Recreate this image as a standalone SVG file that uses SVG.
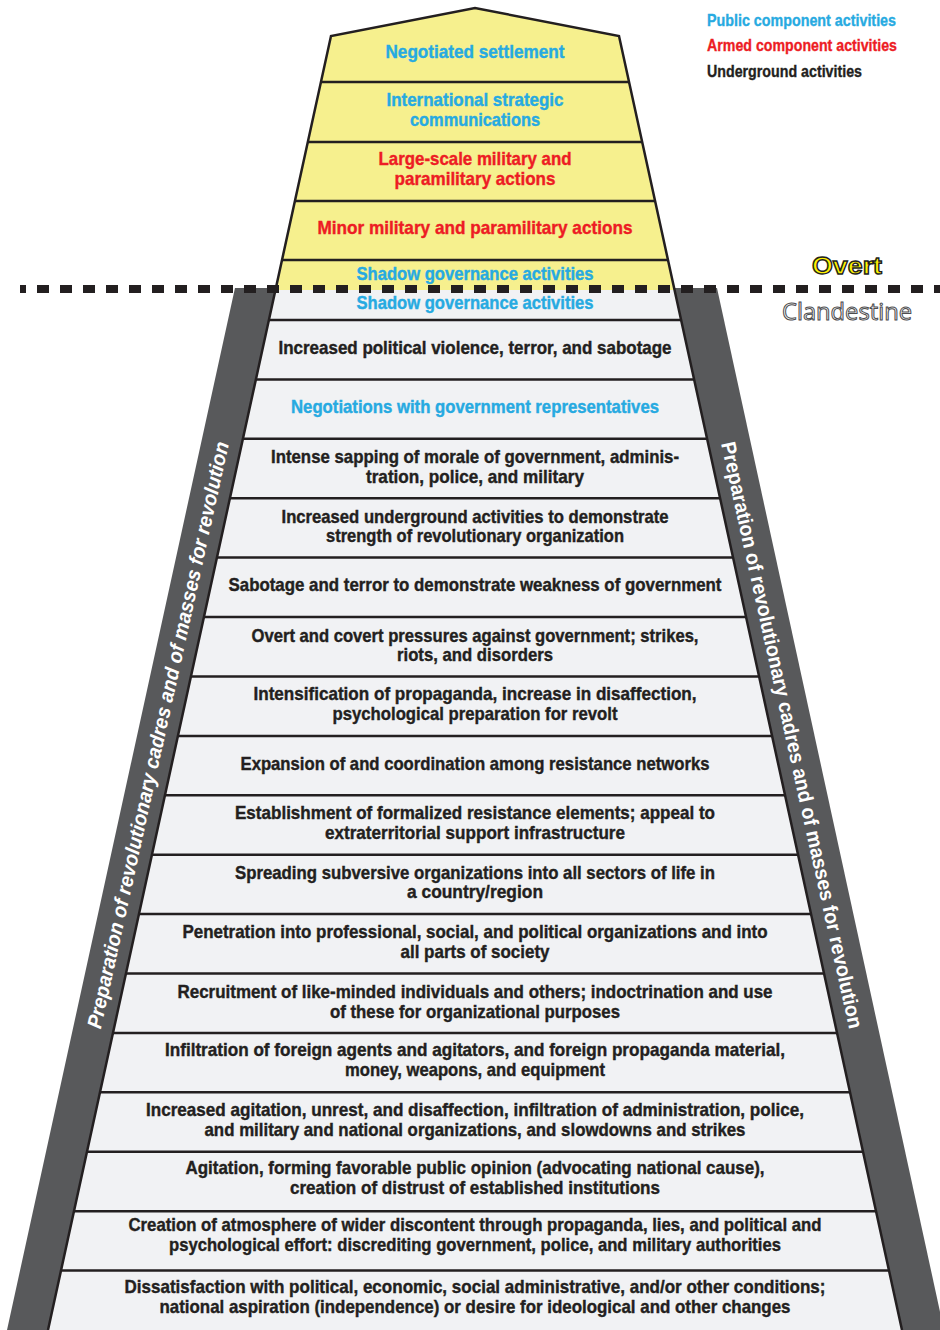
<svg xmlns="http://www.w3.org/2000/svg" width="940" height="1330" viewBox="0 0 940 1330">
<style>
.t{font-family:"Liberation Sans",Arial,sans-serif;font-weight:bold;font-size:18.5px;text-anchor:middle;stroke-width:0.4}
.b{fill:#27aae1;stroke:#27aae1}.r{fill:#ed1c24;stroke:#ed1c24}.k{fill:#231f20;stroke:#231f20}
.sep{stroke:#231f20;stroke-width:2.5;fill:none}
.band{fill:#58595b}
.side{font-family:"Liberation Sans",Arial,sans-serif;font-weight:bold;font-size:20.5px;fill:#ffffff;text-anchor:middle}
.leg{font-family:"Liberation Sans",Arial,sans-serif;font-weight:bold;font-size:17px;stroke-width:0.35}
</style>
<rect width="940" height="1330" fill="#ffffff"/>
<g id="bands">
<polygon class="band" points="235,288 276,288 48,1330 7,1330"/>
<polygon class="band" points="674,288 717,288 944,1330 902,1330"/>
</g>
<g id="pyramid">
<polygon points="475,8 619,36 674.5,290 275.5,290 331,36" fill="#f6f08e"/>
<polygon points="275.5,290 674.5,290 902,1330 48,1330" fill="#f1f2f4"/>
<polyline class="sep" points="48,1330 331,36 475,8 619,36 902,1330"/>
</g>
<g id="connectors">
<line class="sep" x1="321" y1="82" x2="629" y2="82"/>
<line class="sep" x1="308" y1="142" x2="642" y2="142"/>
<line class="sep" x1="295" y1="201" x2="655" y2="201"/>
<line class="sep" x1="282" y1="260" x2="668" y2="260"/>
<line class="sep" x1="269" y1="320" x2="681" y2="320"/>
<line class="sep" x1="256" y1="379.4" x2="694" y2="379.4"/>
<line class="sep" x1="243" y1="438.8" x2="707" y2="438.8"/>
<line class="sep" x1="230" y1="498.2" x2="720" y2="498.2"/>
<line class="sep" x1="217" y1="557.6" x2="733" y2="557.6"/>
<line class="sep" x1="204" y1="617.1" x2="746" y2="617.1"/>
<line class="sep" x1="191" y1="676.5" x2="759" y2="676.5"/>
<line class="sep" x1="178" y1="735.9" x2="772" y2="735.9"/>
<line class="sep" x1="165" y1="795.3" x2="785" y2="795.3"/>
<line class="sep" x1="152" y1="854.7" x2="798" y2="854.7"/>
<line class="sep" x1="139" y1="914.1" x2="811" y2="914.1"/>
<line class="sep" x1="126" y1="973.5" x2="824" y2="973.5"/>
<line class="sep" x1="113" y1="1032.9" x2="837" y2="1032.9"/>
<line class="sep" x1="100" y1="1092.3" x2="850" y2="1092.3"/>
<line class="sep" x1="87" y1="1151.8" x2="863" y2="1151.8"/>
<line class="sep" x1="74" y1="1211.2" x2="876" y2="1211.2"/>
<line class="sep" x1="61" y1="1270.6" x2="889" y2="1270.6"/>
<line x1="20" y1="289" x2="940" y2="289" stroke="#231f20" stroke-width="8" stroke-dasharray="12 11" stroke-dashoffset="6"/>
</g>
<g id="overt-rows">
<g id="n1"><text class="t b" x="475" y="58" textLength="179" lengthAdjust="spacingAndGlyphs">Negotiated settlement</text></g>
<g id="n2"><text class="t b" x="475" y="106" textLength="177" lengthAdjust="spacingAndGlyphs">International strategic</text><text class="t b" x="475" y="126" textLength="130" lengthAdjust="spacingAndGlyphs">communications</text></g>
<g id="n3"><text class="t r" x="475" y="165" textLength="193" lengthAdjust="spacingAndGlyphs">Large-scale military and</text><text class="t r" x="475" y="185" textLength="161" lengthAdjust="spacingAndGlyphs">paramilitary actions</text></g>
<g id="n4"><text class="t r" x="475" y="234" textLength="315" lengthAdjust="spacingAndGlyphs">Minor military and paramilitary actions</text></g>
<g id="n5"><text class="t b" x="475" y="280" textLength="237" lengthAdjust="spacingAndGlyphs">Shadow governance activities</text></g>
</g>
<g id="clandestine-rows">
<g id="n6"><text class="t b" x="475" y="309" textLength="237" lengthAdjust="spacingAndGlyphs">Shadow governance activities</text></g>
<g id="n7"><text class="t k" x="475" y="354" textLength="393" lengthAdjust="spacingAndGlyphs">Increased political violence, terror, and sabotage</text></g>
<g id="n8"><text class="t b" x="475" y="413" textLength="368" lengthAdjust="spacingAndGlyphs">Negotiations with government representatives</text></g>
<g id="n9"><text class="t k" x="475" y="463" textLength="408" lengthAdjust="spacingAndGlyphs">Intense sapping of morale of government, adminis-</text><text class="t k" x="475" y="483" textLength="218" lengthAdjust="spacingAndGlyphs">tration, police, and military</text></g>
<g id="n10"><text class="t k" x="475" y="523" textLength="387" lengthAdjust="spacingAndGlyphs">Increased underground activities to demonstrate</text><text class="t k" x="475" y="542" textLength="298" lengthAdjust="spacingAndGlyphs">strength of revolutionary organization</text></g>
<g id="n11"><text class="t k" x="475" y="591" textLength="493" lengthAdjust="spacingAndGlyphs">Sabotage and terror to demonstrate weakness of government</text></g>
<g id="n12"><text class="t k" x="475" y="642" textLength="447" lengthAdjust="spacingAndGlyphs">Overt and covert pressures against government; strikes,</text><text class="t k" x="475" y="661" textLength="156" lengthAdjust="spacingAndGlyphs">riots, and disorders</text></g>
<g id="n13"><text class="t k" x="475" y="700" textLength="443" lengthAdjust="spacingAndGlyphs">Intensification of propaganda, increase in disaffection,</text><text class="t k" x="475" y="720" textLength="285" lengthAdjust="spacingAndGlyphs">psychological preparation for revolt</text></g>
<g id="n14"><text class="t k" x="475" y="770" textLength="469" lengthAdjust="spacingAndGlyphs">Expansion of and coordination among resistance networks</text></g>
<g id="n15"><text class="t k" x="475" y="819" textLength="480" lengthAdjust="spacingAndGlyphs">Establishment of formalized resistance elements; appeal to</text><text class="t k" x="475" y="839" textLength="300" lengthAdjust="spacingAndGlyphs">extraterritorial support infrastructure</text></g>
<g id="n16"><text class="t k" x="475" y="879" textLength="480" lengthAdjust="spacingAndGlyphs">Spreading subversive organizations into all sectors of life in</text><text class="t k" x="475" y="898" textLength="136" lengthAdjust="spacingAndGlyphs">a country/region</text></g>
<g id="n17"><text class="t k" x="475" y="938" textLength="585" lengthAdjust="spacingAndGlyphs">Penetration into professional, social, and political organizations and into</text><text class="t k" x="475" y="958" textLength="149" lengthAdjust="spacingAndGlyphs">all parts of society</text></g>
<g id="n18"><text class="t k" x="475" y="998" textLength="595" lengthAdjust="spacingAndGlyphs">Recruitment of like-minded individuals and others; indoctrination and use</text><text class="t k" x="475" y="1018" textLength="290" lengthAdjust="spacingAndGlyphs">of these for organizational purposes</text></g>
<g id="n19"><text class="t k" x="475" y="1056" textLength="620" lengthAdjust="spacingAndGlyphs">Infiltration of foreign agents and agitators, and foreign propaganda material,</text><text class="t k" x="475" y="1076" textLength="260" lengthAdjust="spacingAndGlyphs">money, weapons, and equipment</text></g>
<g id="n20"><text class="t k" x="475" y="1116" textLength="658" lengthAdjust="spacingAndGlyphs">Increased agitation, unrest, and disaffection, infiltration of administration, police,</text><text class="t k" x="475" y="1136" textLength="541" lengthAdjust="spacingAndGlyphs">and military and national organizations, and slowdowns and strikes</text></g>
<g id="n21"><text class="t k" x="475" y="1174" textLength="579" lengthAdjust="spacingAndGlyphs">Agitation, forming favorable public opinion (advocating national cause),</text><text class="t k" x="475" y="1194" textLength="370" lengthAdjust="spacingAndGlyphs">creation of distrust of established institutions</text></g>
<g id="n22"><text class="t k" x="475" y="1231" textLength="693" lengthAdjust="spacingAndGlyphs">Creation of atmosphere of wider discontent through propaganda, lies, and political and</text><text class="t k" x="475" y="1251" textLength="612" lengthAdjust="spacingAndGlyphs">psychological effort: discrediting government, police, and military authorities</text></g>
<g id="n23"><text class="t k" x="475" y="1293" textLength="701" lengthAdjust="spacingAndGlyphs">Dissatisfaction with political, economic, social administrative, and/or other conditions;</text><text class="t k" x="475" y="1313" textLength="631" lengthAdjust="spacingAndGlyphs">national aspiration (independence) or desire for ideological and other changes</text></g>
</g>
<g id="side-left"><text class="side" font-style="italic" transform="translate(158,735) rotate(-77.66)" y="7" textLength="600" lengthAdjust="spacingAndGlyphs">Preparation of revolutionary cadres and of masses for revolution</text></g>
<g id="side-right"><text class="side" transform="translate(792,735) rotate(77.66)" y="7" textLength="600" lengthAdjust="spacingAndGlyphs">Preparation of revolutionary cadres and of masses for revolution</text></g>
<g id="labels">
<text x="847" y="274" font-family="'Liberation Sans',Arial,sans-serif" font-weight="bold" font-size="24" fill="#fff200" stroke="#231f20" stroke-width="1.3" text-anchor="middle" textLength="70" lengthAdjust="spacingAndGlyphs">Overt</text>
<text x="847" y="320" font-family="'Open Sans','DejaVu Sans',sans-serif" font-size="23" fill="#ffffff" stroke="#4d4d4f" stroke-width="1" text-anchor="middle" textLength="130" lengthAdjust="spacingAndGlyphs">Clandestine</text>
</g>
<g id="legend">
<text class="leg b" x="707" y="26" textLength="189" lengthAdjust="spacingAndGlyphs">Public component activities</text>
<text class="leg r" x="707" y="51" textLength="190" lengthAdjust="spacingAndGlyphs">Armed component activities</text>
<text class="leg k" x="707" y="77" textLength="155" lengthAdjust="spacingAndGlyphs">Underground activities</text>
</g>
</svg>
